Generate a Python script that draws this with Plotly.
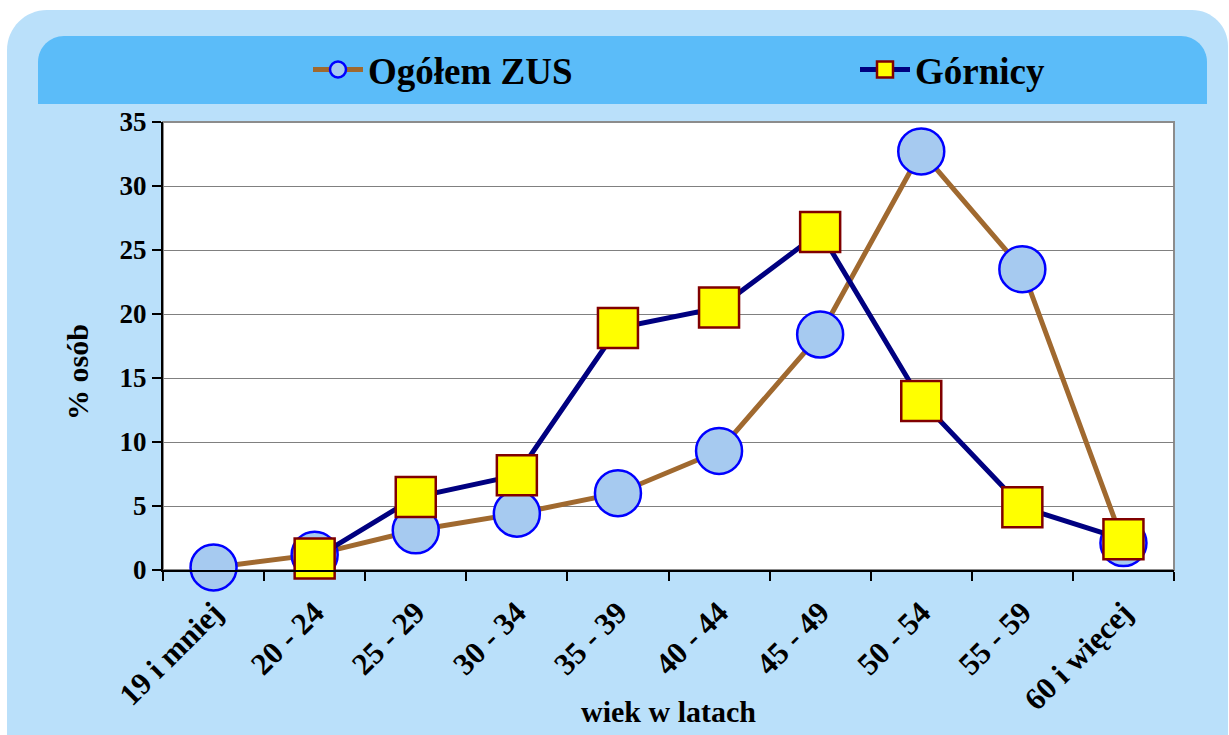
import plotly.graph_objects as go

# ---- data ----
categories = ["19 i mniej", "20 - 24", "25 - 29", "30 - 34", "35 - 39",
              "40 - 44", "45 - 49", "50 - 54", "55 - 59", "60 i więcej"]
ogolem_zus = [0.2, 1.2, 3.1, 4.4, 6.0, 9.3, 18.4, 32.7, 23.5, 2.1]
gornicy = [None, 0.9, 5.7, 7.4, 18.9, 20.5, 26.4, 13.2, 4.9, 2.4]
y_tick_vals = [0, 5, 10, 15, 20, 25, 30, 35]

# ---- geometry (pixels) ----
W, H = 1229, 735
ML, MR, MT, MB = 163, 55, 122, 165
PW, PH = W - ML - MR, H - MT - MB

def px(x):
    return (x - ML) / PW

def py(y):
    return (H - MB - y) / PH

def rounded_path(x0, y0, x1, y1, r_tl, r_tr, r_br, r_bl):
    k = 0.5523
    pts = []
    pts.append(f"M{px(x0 + r_tl)},{py(y0)}")
    pts.append(f"L{px(x1 - r_tr)},{py(y0)}")
    if r_tr:
        pts.append(f"C{px(x1 - r_tr + k * r_tr)},{py(y0)} {px(x1)},{py(y0 + r_tr - k * r_tr)} {px(x1)},{py(y0 + r_tr)}")
    pts.append(f"L{px(x1)},{py(y1 - r_br)}")
    if r_br:
        pts.append(f"C{px(x1)},{py(y1 - r_br + k * r_br)} {px(x1 - r_br + k * r_br)},{py(y1)} {px(x1 - r_br)},{py(y1)}")
    pts.append(f"L{px(x0 + r_bl)},{py(y1)}")
    if r_bl:
        pts.append(f"C{px(x0 + r_bl - k * r_bl)},{py(y1)} {px(x0)},{py(y1 - r_bl + k * r_bl)} {px(x0)},{py(y1 - r_bl)}")
    pts.append(f"L{px(x0)},{py(y0 + r_tl)}")
    if r_tl:
        pts.append(f"C{px(x0)},{py(y0 + r_tl - k * r_tl)} {px(x0 + r_tl - k * r_tl)},{py(y0)} {px(x0 + r_tl)},{py(y0)}")
    pts.append("Z")
    return " ".join(pts)

FONT = "Liberation Serif, Times New Roman, serif"

fig = go.Figure()

fig.add_trace(go.Scatter(
    x=categories, y=ogolem_zus, name="Ogółem ZUS",
    mode="lines+markers",
    line=dict(color="#A0692F", width=5),
    marker=dict(symbol="circle", size=46, color="#A6CAF0",
                line=dict(color="#0000FF", width=2.5)),
    cliponaxis=False, legend="legend",
))
fig.add_trace(go.Scatter(
    x=categories, y=gornicy, name="Górnicy",
    mode="lines+markers",
    line=dict(color="#000080", width=5),
    marker=dict(symbol="square", size=40, color="#FFFF00",
                line=dict(color="#800000", width=2.5)),
    cliponaxis=False, legend="legend2",
))

shapes = [
    # outer textured light-blue panel
    dict(type="path", xref="paper", yref="paper", layer="below",
         path=rounded_path(7, 10, 1228, 760, 40, 36, 0, 0),
         fillcolor="#BAE0FA", line=dict(width=0)),
    # legend banner
    dict(type="path", xref="paper", yref="paper", layer="below",
         path=rounded_path(38, 36, 1207, 104, 26, 26, 0, 0),
         fillcolor="#5BBCF9", line=dict(width=0)),
    # white plot area with grey frame
    dict(type="rect", xref="paper", yref="paper", layer="below",
         x0=0, x1=1, y0=0, y1=1, fillcolor="#FFFFFF",
         line=dict(color="#8C8C8C", width=2)),
]

legend_common = dict(
    orientation="h", xanchor="left", yanchor="middle",
    bgcolor="rgba(0,0,0,0)", borderwidth=0,
    font=dict(family=FONT, size=37, color="#000000", weight="bold"),
    itemwidth=50,
)

fig.update_layout(
    width=W, height=H,
    margin=dict(l=ML, r=MR, t=MT, b=MB, pad=0, autoexpand=False),
    paper_bgcolor="#FFFFFF",
    plot_bgcolor="rgba(0,0,0,0)",
    font=dict(family=FONT, size=27, color="#000000", weight="bold"),
    shapes=shapes,
    showlegend=True,
    legend=dict(x=px(308), y=py(70), **legend_common),
    legend2=dict(x=px(855), y=py(70), **legend_common),
    annotations=[
        dict(text="% osób", xref="paper", yref="paper",
             x=px(77), y=py(372), xanchor="center", yanchor="middle",
             textangle=-90, showarrow=False,
             font=dict(family=FONT, size=30, weight="bold")),
        dict(text="wiek w latach", xref="paper", yref="paper",
             x=px(668), y=py(711), xanchor="center", yanchor="middle",
             showarrow=False,
             font=dict(family=FONT, size=30, weight="bold")),
    ],
    xaxis=dict(
        type="category", range=[-0.5, 9.5], automargin=False,
        showgrid=False, zeroline=False,
        showline=True, linecolor="#000000", linewidth=2,
        ticks="outside", ticklen=9, tickwidth=1.5, tickcolor="#000000",
        tickson="boundaries", tickangle=-45, ticklabelstandoff=10,
        tickfont=dict(family=FONT, size=31, weight="bold"),
    ),
    yaxis=dict(
        range=[0, 35], tickvals=y_tick_vals, automargin=False,
        showgrid=True, gridcolor="#808080", gridwidth=1.2,
        zeroline=False,
        showline=True, linecolor="#000000", linewidth=2,
        ticks="outside", ticklen=9, tickwidth=1.5, tickcolor="#000000",
        tickfont=dict(family=FONT, size=27, weight="bold"),
    ),
)

fig.write_html("out.html", config={"displayModeBar": False},
               post_script="document.body.style.margin='0';")
